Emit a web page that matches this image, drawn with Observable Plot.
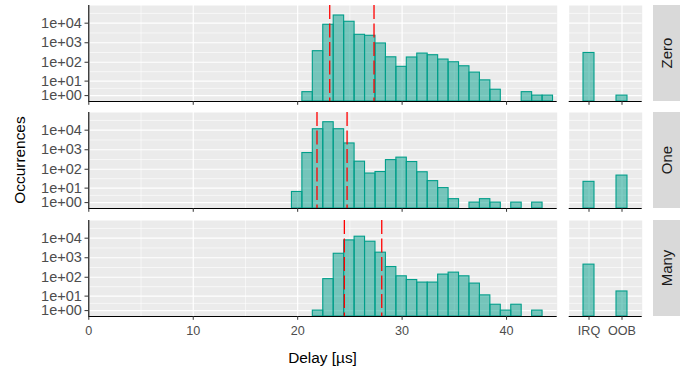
<!DOCTYPE html>
<html><head><meta charset="utf-8">
<script src="https://cdn.jsdelivr.net/npm/d3@7"></script>
<script src="https://cdn.jsdelivr.net/npm/@observablehq/plot@0.6"></script>
<style>
body{margin:0;background:#fff;}
#chart{position:relative;width:694px;height:375px;overflow:hidden;font-family:"Liberation Sans",Arial,Helvetica,sans-serif;}
.cell{position:absolute;}
.strip{position:absolute;background:#D9D9D9;}
.strip span{position:absolute;left:50%;top:50%;transform:translate(-50%,-50%) rotate(-90deg);font-size:15px;color:#1A1A1A;white-space:nowrap;}
.title{position:absolute;font-size:15.4px;color:#000;white-space:nowrap;}
</style></head><body><div id="chart"></div>
<script>
// ---- data ----
const groups = ["Zero", "One", "Many"];
const binStart = [19.45, 20.45, 21.45, 22.45, 23.45, 24.45, 25.45, 26.45, 27.45, 28.45, 29.45, 30.45, 31.45, 32.45, 33.45, 34.45, 35.45, 36.45, 37.45, 38.45, 39.45, 40.45, 41.45, 42.45, 43.45];
const binWidth = 1;
const countsZero = [0, 2, 370, 8300, 24700, 11800, 2550, 2270, 920, 180, 58, 176, 280, 230, 138, 100, 62, 29, 11, 3, 0, 0, 2, 1, 1];
const countsOne  = [6, 680, 11200, 25500, 11200, 2100, 245, 60, 72, 295, 395, 235, 70, 24, 10, 2, 0, 1, 2, 1, 0, 1, 0, 1, 0];
const countsMany = [0, 0, 1, 80, 1600, 7700, 11900, 6600, 1820, 335, 112, 72, 53, 53, 137, 173, 112, 47, 11, 3, 1, 3, 0, 1, 0];
const refZero = [23.07, 27.31];
const refOne  = [21.85, 24.73];
const refMany = [24.47, 28.05];
const sources = ["IRQ", "OOB"];
const srcZero = [300, 1];
const srcOne  = [22, 47];
const srcMany = [445, 18];
const xTicks = [0, 10, 20, 30, 40];
const yTicks = [1, 10, 100, 1000, 10000];
const yTickLabels = ["1e+00", "1e+01", "1e+02", "1e+03", "1e+04"];
const xTitle = "Delay [µs]";
const yTitle = "Occurrences";

const countsBy = {Zero: countsZero, One: countsOne, Many: countsMany};
const refsBy = {Zero: refZero, One: refOne, Many: refMany};
const srcBy = {Zero: srcZero, One: srcOne, Many: srcMany};

// ---- style ----
const FONT = '"Liberation Sans", Arial, Helvetica, sans-serif';
const teal = "#009E8A";
const panelH = 96, panelStep = 107.3, panelTop0 = 5;
const xMinor = xTicks.slice(1).map((t, i) => (t + xTicks[i]) / 2);
const yMinor = yTicks.map((t, i) => Math.sqrt((1 + t) * (1 + (i + 1 < yTicks.length ? yTicks[i + 1] : t * 10))) - 1);
const yScale = {type: "symlog", constant: 1, domain: [0, 80000]};
const chart = document.getElementById("chart");

function place(node, left, top) {
  const d = document.createElement("div");
  d.className = "cell";
  d.style.left = left + "px";
  d.style.top = top + "px";
  d.appendChild(node);
  chart.appendChild(d);
}

groups.forEach((g, i) => {
  const bottom = i === groups.length - 1;
  const top = panelTop0 + i * panelStep;
  const mb = bottom ? 30 : 8;
  const hist = binStart.map((s, k) => ({x1: s, x2: s + binWidth, n: countsBy[g][k]})).filter(d => d.n > 0);
  const left = Plot.plot({
    width: 557, height: panelH + mb,
    marginLeft: 88.3, marginRight: 0.3, marginTop: 0, marginBottom: mb,
    style: {background: "transparent", fontFamily: FONT, overflow: "visible"},
    x: {domain: [0, 44.85], label: null},
    y: {...yScale, label: null},
    marks: [
      Plot.frame({fill: "#EBEBEB", stroke: null}),
      Plot.ruleX(xMinor, {stroke: "white", strokeWidth: 0.6}),
      Plot.ruleY(yMinor, {stroke: "white", strokeWidth: 0.6}),
      Plot.ruleX(xTicks, {stroke: "white", strokeWidth: 1.2}),
      Plot.ruleY(yTicks, {stroke: "white", strokeWidth: 1.2}),
      Plot.rectY(hist, {x1: "x1", x2: "x2", y: "n", fill: teal, fillOpacity: 0.5, stroke: teal, strokeWidth: 1.1}),
      Plot.ruleX(refsBy[g], {stroke: "#FF0000", strokeWidth: 1.3, strokeDasharray: "14,4.5"}),
      Plot.ruleY([0], {stroke: "black", strokeWidth: 1.1}),
      Plot.ruleX([0], {stroke: "black", strokeWidth: 1.1}),
      Plot.axisX({ticks: xTicks, tickSize: 3.8, tickPadding: 6, stroke: "#333333", fill: "#4D4D4D", fontSize: 12.6,
                  tickFormat: bottom ? (d => String(d)) : (() => ""), label: null}),
      Plot.axisY({ticks: yTicks, tickSize: 3.8, tickPadding: 3.2, stroke: "#333333", fill: "#4D4D4D", fontSize: 14.5,
                  tickFormat: d => yTickLabels[yTicks.indexOf(d)], label: null})
    ]
  });
  place(left, 0, top);

  const src = sources.map((s, k) => ({s, n: srcBy[g][k]}));
  const right = Plot.plot({
    width: 82, height: panelH + mb,
    marginLeft: 8.7, marginRight: 0.3, marginTop: 0, marginBottom: mb,
    style: {background: "transparent", fontFamily: FONT, overflow: "visible"},
    x: {type: "band", domain: sources, paddingInner: 0.657, paddingOuter: 0.4345, label: null},
    y: {...yScale, axis: null, label: null},
    marks: [
      Plot.frame({fill: "#EBEBEB", stroke: null}),
      Plot.ruleY(yMinor, {stroke: "white", strokeWidth: 0.6}),
      Plot.ruleY(yTicks, {stroke: "white", strokeWidth: 1.2}),
      Plot.ruleX(sources, {x: d => d, stroke: "white", strokeWidth: 1.2}),
      Plot.barY(src, {x: "s", y: "n", fill: teal, fillOpacity: 0.5, stroke: teal, strokeWidth: 1.1}),
      Plot.ruleY([0], {stroke: "black", strokeWidth: 1.1}),
      Plot.axisX({tickSize: 3.8, tickPadding: 6, stroke: "#333333", fill: "#4D4D4D", fontSize: 12.6,
                  tickFormat: bottom ? (d => d) : (() => ""), label: null})
    ]
  });
  place(right, 560, top);

  const strip = document.createElement("div");
  strip.className = "strip";
  strip.style.left = "652.7px";
  strip.style.top = top + "px";
  strip.style.width = "27.3px";
  strip.style.height = panelH + "px";
  const sp = document.createElement("span");
  sp.textContent = g;
  strip.appendChild(sp);
  chart.appendChild(strip);
});

const xt = document.createElement("div");
xt.className = "title";
xt.textContent = xTitle;
xt.style.left = "322.5px"; xt.style.top = "358px";
xt.style.transform = "translate(-50%,-50%)";
chart.appendChild(xt);

const yt = document.createElement("div");
yt.className = "title";
yt.textContent = yTitle;
yt.style.left = "19.5px"; yt.style.top = "160px";
yt.style.transform = "translate(-50%,-50%) rotate(-90deg)";
chart.appendChild(yt);
</script></body></html>
